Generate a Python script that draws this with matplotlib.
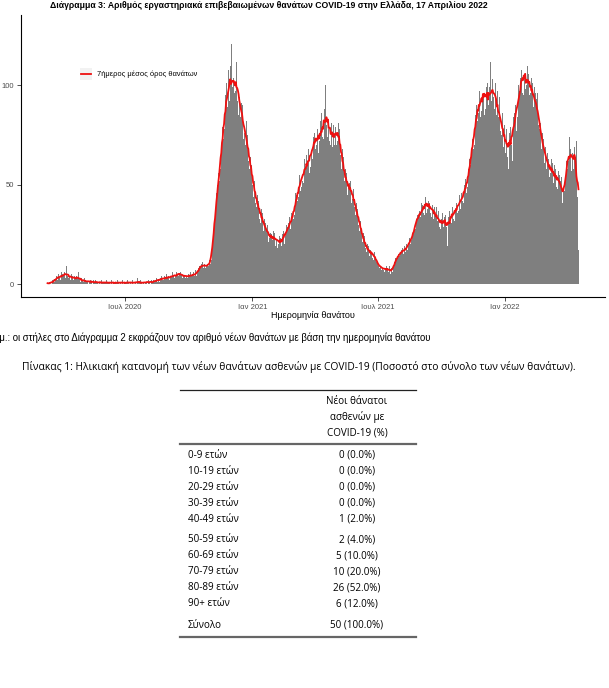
import matplotlib
matplotlib.use("Agg")
import matplotlib.pyplot as plt
from matplotlib.lines import Line2D
from matplotlib.patches import Rectangle
import pandas as pd

W, H = 609, 688

# daily new deaths by date of death, 2020-03-11 .. 2022-04-17 (one line per month)
start_date = "2020-03-11"
deaths_2020 = [
    0, 0, 1, 1, 0, 1, 0, 2, 1, 2, 1, 2, 3, 4, 2, 3, 5, 3, 4, 2, 6,
    3, 5, 4, 6, 4, 3, 9, 5, 4, 3, 6, 4, 2, 3, 5, 4, 2, 3, 4, 3, 2, 4, 3, 2, 6, 3, 2, 1, 3, 2,
    2, 1, 3, 1, 2, 1, 2, 1, 0, 3, 1, 2, 1, 1, 0, 2, 1, 1, 2, 0, 1, 1, 2, 0, 1, 1, 0, 2, 1, 0, 1,
    1, 0, 1, 2, 0, 1, 1, 0, 1, 0, 2, 1, 0, 1, 1, 0, 1, 0, 1, 2, 0, 1, 0, 1, 1, 0, 2, 1, 0, 1,
    0, 1, 1, 0, 2, 1, 0, 1, 1, 0, 1, 2, 0, 1, 0, 1, 1, 0, 3, 1, 0, 1, 2, 0, 1, 0, 1, 1, 0, 2, 1,
    1, 0, 1, 2, 1, 1, 0, 2, 1, 1, 2, 0, 1, 2, 3, 2, 1, 2, 3, 1, 3, 2, 4, 2, 3, 2, 4, 3, 2, 5, 3,
    3, 4, 2, 5, 3, 4, 3, 6, 4, 3, 5, 4, 6, 3, 5, 4, 7, 5, 6, 4, 5, 3, 4, 6, 4, 3, 5, 4, 3, 4,
    5, 4, 3, 6, 4, 5, 3, 6, 4, 5, 7, 4, 5, 6, 8, 7, 9, 8, 10, 9, 11, 8, 9, 10, 8, 11, 9, 10, 8, 9, 12,
    10, 13, 12, 19, 20, 27, 29, 35, 37, 46, 38, 50, 56, 52, 63, 58, 70, 67, 79, 73, 88,
    78, 95, 84, 101, 89, 108, 97, 92, 110,
    95, 121, 99, 91, 104, 96, 108, 97, 112, 92, 103, 85, 94, 99, 84, 91, 78, 90, 73, 85, 76,
    70, 82, 66, 75, 62, 70, 58, 64, 55, 60,
]
deaths_2021 = [
    50, 56, 44, 52, 41, 47, 39, 45, 36, 42, 33, 40, 31, 38, 30, 36, 27, 33, 25, 31, 28,
    24, 30, 21, 28, 23, 26, 20, 25, 22, 27,
    21, 26, 19, 25, 22, 18, 27, 20, 24, 17, 23, 19, 25, 21, 27, 20, 28, 24, 30, 22, 29,
    31, 26, 34, 28, 36, 30, 35,
    33, 40, 35, 46, 38, 45, 42, 50, 44, 55, 47, 57, 49, 52, 60, 51, 63, 54, 58, 65, 55,
    61, 68, 56, 70, 59, 66, 72, 63, 74, 67,
    76, 68, 80, 70, 78, 66, 75, 72, 82, 70, 86, 74, 79, 73, 88, 77, 100, 80, 74, 91, 78,
    72, 85, 70, 81, 74, 69, 80, 76, 70,
    79, 70, 84, 72, 81, 69, 78, 65, 72, 58, 68, 55, 64, 52, 58, 47, 56, 45, 54, 49, 51,
    44, 52, 41, 49, 43, 48, 39, 42, 35, 41,
    33, 38, 30, 35, 27, 32, 26, 28, 21, 26, 19, 24, 18, 22, 16, 20, 15, 19, 14, 18, 17,
    15, 13, 18, 12, 16, 14, 13, 11, 12,
    10, 9, 11, 8, 9, 7, 10, 8, 7, 9, 6, 8, 7, 9, 7, 8, 6, 9, 5, 7, 8,
    6, 7, 9, 11, 10, 13, 12, 14, 13, 15,
    14, 16, 15, 17, 16, 18, 15, 17, 19, 16, 18, 20, 17, 19, 21, 23, 20, 24, 22, 25, 23,
    26, 29, 31, 28, 33, 35, 32, 34, 37, 33,
    34, 41, 33, 40, 36, 43, 35, 44, 36, 46, 38, 42, 35, 41, 36, 43, 34, 40, 37, 33, 39,
    35, 31, 39, 32, 30, 37, 29, 34, 28,
    33, 27, 36, 29, 34, 28, 35, 29, 35, 19, 34, 28, 37, 31, 35, 31, 39, 33, 40, 32, 38,
    35, 41, 36, 43, 37, 45, 40, 38, 46, 42,
    47, 41, 50, 44, 53, 46, 55, 49, 58, 52, 63, 60, 68, 65, 73, 68, 80, 70, 85, 79, 90,
    82, 93, 86, 97, 84, 99, 87, 92, 100,
    96, 85, 111, 88, 99, 86, 101, 90, 99, 87, 112, 92, 89, 103, 94, 106, 88, 101, 91, 85, 97,
    84, 80, 94, 77, 89, 75, 86, 73, 69, 80,
]
deaths_2022 = [
    74, 66, 78, 64, 75, 58, 76, 67, 79, 70, 81, 62, 84, 78, 86, 90, 77, 95, 84, 100, 88,
    97, 104, 90, 108, 96, 129, 95, 103, 98, 106,
    100, 110, 97, 106, 95, 105, 96, 104, 92, 101, 89, 99, 87, 96, 93, 82, 96, 80, 85, 78, 81,
    77, 68, 76, 65, 73, 61, 69,
    67, 58, 66, 55, 63, 54, 62, 56, 63, 52, 61, 51, 60, 50, 58, 49, 59, 48, 57, 47, 55,
    52, 44, 54, 41, 49, 40, 47, 54, 57, 62,
    58, 66, 62, 74, 59, 68, 57, 66, 70, 58, 69, 57, 64, 72, 58, 44, 17,
]

x_tick_dates = ["2020-07-01", "2021-01-01", "2021-07-01", "2022-01-01"]
x_tick_labels = ["Ιουλ 2020", "Ιαν 2021", "Ιουλ 2021", "Ιαν 2022"]
y_ticks = [0, 50, 100]

# table 1
age_groups = ["0-9 ετών", "10-19 ετών", "20-29 ετών", "30-39 ετών", "40-49 ετών",
              "50-59 ετών", "60-69 ετών", "70-79 ετών", "80-89 ετών", "90+ ετών"]
age_deaths = [0, 0, 0, 0, 1, 2, 5, 10, 26, 6]
age_pct = [0.0, 0.0, 0.0, 0.0, 2.0, 4.0, 10.0, 20.0, 52.0, 12.0]
total_deaths = 50
total_pct = 100.0


def fx(x):
    return x / W


def fy(y):
    return 1 - y / H


values = deaths_2020 + deaths_2021 + deaths_2022
deaths = pd.Series(values, index=pd.date_range(start_date, periods=len(values), freq="D"))
avg7 = deaths.rolling(7, center=True, min_periods=1).mean()

fig = plt.figure(figsize=(W / 100, H / 100), dpi=100)
ax = fig.add_axes([fx(21), fy(297), (605 - 21) / W, (297 - 15) / H])

ax.bar(deaths.index, deaths.values, width=1.0, color="#7f7f7f", linewidth=0,
       antialiased=False)
ax.plot(avg7.index, avg7.values, color="#ee1111", lw=1.3)

# ggplot-like 5% expansion
first, last = deaths.index[0], deaths.index[-1]
span = last - first
ax.set_xlim(first - span * 0.05, last + span * 0.05)
ymax = deaths.max()
ax.set_ylim(-0.05 * ymax, 1.05 * ymax)

ax.set_xticks(pd.to_datetime(x_tick_dates))
ax.set_xticklabels(x_tick_labels)
ax.set_yticks(y_ticks)
for s in ["top", "right"]:
    ax.spines[s].set_visible(False)
for s in ["left", "bottom"]:
    ax.spines[s].set_linewidth(0.8)
ax.tick_params(length=3, width=0.6, color="#333333", labelsize=5.5,
               labelcolor="#4d4d4d", pad=2)
for lab in ax.get_xticklabels() + ax.get_yticklabels():
    lab.set_family("Liberation Sans")

# legend drawn by hand (ggplot style grey key)
fig.patches.append(Rectangle((fx(80), fy(80)), 12 / W, 12 / H, transform=fig.transFigure,
                             facecolor="#f2f2f2", edgecolor="none"))
fig.lines.append(Line2D([fx(81), fx(91)], [fy(74), fy(74)], transform=fig.transFigure,
                        color="#ee1111", lw=1.3))
fig.text(fx(97), fy(74), "7ήμερος μέσος όρος θανάτων", fontsize=5.4, va="center",
         family="Liberation Sans")

fig.text(fx(50), fy(6), "Διάγραμμα 3: Αριθμός εργαστηριακά επιβεβαιωμένων θανάτων COVID-19 "
         "στην Ελλάδα, 17 Απριλίου 2022", fontsize=6.2, fontweight="bold", va="center",
         family="Liberation Sans")
fig.text(fx(313), fy(315), "Ημερομηνία θανάτου", fontsize=6.5, ha="center", va="center",
         family="Liberation Sans")
# the note is cut at the left page edge in the source
fig.text(fx(431), fy(338), "Σημ.: οι στήλες στο Διάγραμμα 2 εκφράζουν τον αριθμό νέων θανάτων "
         "με βάση την ημερομηνία θανάτου", fontsize=6.9, ha="right", va="center",
         family="Liberation Sans")

# table
tfont = "Open Sans"
tsize = 7.1
fig.text(fx(299), fy(367), "Πίνακας 1: Ηλικιακή κατανομή των νέων θανάτων ασθενών με COVID-19 "
         "(Ποσοστό στο σύνολο των νέων θανάτων).", fontsize=7.35, ha="center", va="center",
         family=tfont)

tl, tr, col_x, lab_x = 180, 416, 357, 188
fig.lines.append(Line2D([fx(tl), fx(tr)], [fy(390), fy(390)], transform=fig.transFigure,
                        color="#222222", lw=0.9))
fig.lines.append(Line2D([fx(tl), fx(tr)], [fy(443.5), fy(443.5)], transform=fig.transFigure,
                        color="#666666", lw=1.6))
fig.lines.append(Line2D([fx(tl), fx(tr)], [fy(636.5), fy(636.5)], transform=fig.transFigure,
                        color="#666666", lw=1.6))
for txt, y in zip(["Νέοι θάνατοι", "ασθενών με", "COVID-19 (%)"], [402, 417, 433]):
    fig.text(fx(col_x), fy(y), txt, fontsize=tsize, ha="center", va="center", family=tfont)

row_y = [455, 471, 487, 503, 519, 540, 556, 572, 588, 604]
for lab, n, p, y in zip(age_groups, age_deaths, age_pct, row_y):
    fig.text(fx(lab_x), fy(y), lab, fontsize=tsize, ha="left", va="center", family=tfont)
    fig.text(fx(col_x), fy(y), f"{n} ({p:.1f}%)", fontsize=tsize, ha="center", va="center",
             family=tfont)
fig.text(fx(lab_x), fy(625), "Σύνολο", fontsize=tsize, ha="left", va="center", family=tfont)
fig.text(fx(col_x), fy(625), f"{total_deaths} ({total_pct:.1f}%)", fontsize=tsize,
         ha="center", va="center", family=tfont)

fig.savefig("out.png", dpi=100, facecolor="white")
